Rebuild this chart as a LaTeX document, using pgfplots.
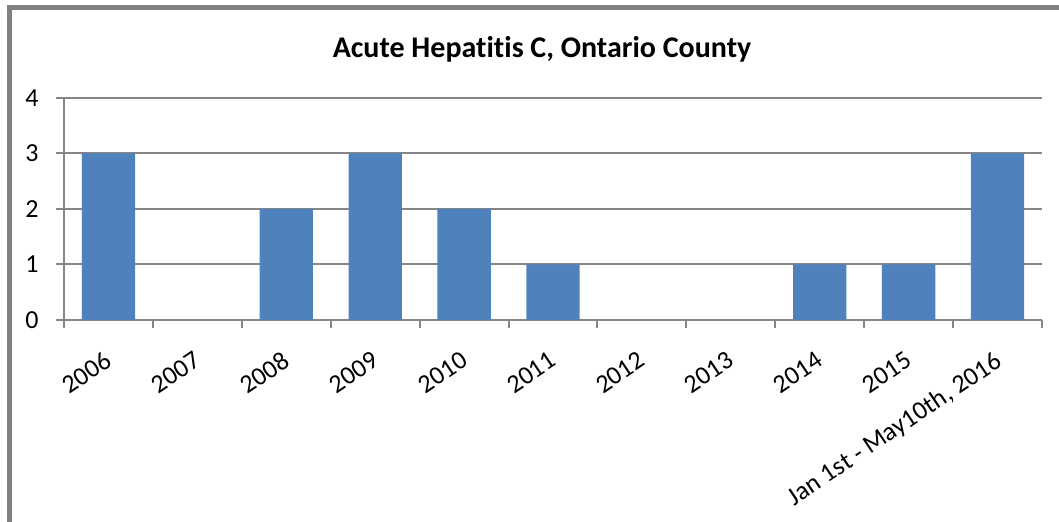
\documentclass[border=0pt]{standalone}
\usepackage{pgfplots}
\pgfplotsset{compat=1.18}
\usepackage{fontspec}
\setmainfont{Carlito}[Ligatures=NoCommon]

\definecolor{barblue}{RGB}{79,129,189}
\definecolor{gridgray}{RGB}{134,134,134}
\definecolor{framegray}{RGB}{128,128,128}

\begin{document}
\begin{tikzpicture}
\useasboundingbox (0,0) rectangle (529.5pt,261pt);
% chart frame (left and top edges)
\draw[framegray, line width=2.5pt] (4.75pt,0) -- (4.75pt,257pt) -- (529.5pt,257pt);
% title
\node[anchor=base, font=\fontsize{15}{18}\selectfont\bfseries] at (271pt,232pt)
  {Acute Hepatitis C, Ontario County};
\begin{axis}[
  at={(32pt,101pt)}, anchor=south west,
  scale only axis, width=489pt, height=111pt,
  xmin=-0.5, xmax=10.5, ymin=0, ymax=4,
  ybar, bar width=0.6,
  axis lines*=left,
  axis line style={gridgray, line width=1pt, -},
  ymajorgrids, grid style={gridgray, line width=1pt},
  ytick={0,1,2,3,4},
  xtick={0,...,10},
  xticklabels={2006,2007,2008,2009,2010,2011,2012,2013,2014,2015,{Jan 1st - May10th, 2016}},
  minor xtick={-0.5,0.5,...,10.5},
  major x tick style={draw=none},
  minor x tick style={gridgray, line width=1pt},
  y tick style={gridgray, line width=1pt},
  tick align=outside,
  major tick length=4pt, minor tick length=4pt,
  /pgf/number format/assume math mode=true,
  tick label style={font=\fontsize{13}{15}\selectfont, inner sep=0pt},
  xticklabel style={xshift=-2.25pt, yshift=-11pt, rotate=34, anchor=north east},
  yticklabel style={xshift=-8.5pt, anchor=east},
  clip=false,
]
\addplot[fill=barblue, draw=none] coordinates {
  (0,3) (1,0) (2,2) (3,3) (4,2) (5,1) (6,0) (7,0) (8,1) (9,1) (10,3)
};
\end{axis}
\end{tikzpicture}
\end{document}
